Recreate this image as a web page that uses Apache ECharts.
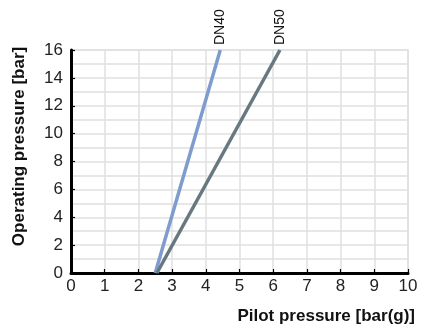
<!DOCTYPE html>
<html>
<head>
<meta charset="utf-8">
<script src="https://cdn.jsdelivr.net/npm/echarts@6/dist/echarts.min.js"></script>
<style>
  html, body { margin: 0; padding: 0; background: #fff; }
  #chart { width: 421px; height: 329px; }
</style>
</head>
<body>
<div id="chart"></div>
<script>
// pilot pressure [bar(g)] vs operating pressure [bar]
const seriesNames = ['DN40', 'DN50'];
const dn40 = [[2.5, 0], [4.43, 16]];
const dn50 = [[2.55, 0], [6.2, 16]];
const lineColors = ['#7f9ccf', '#677880'];

const chart = echarts.init(document.getElementById('chart'));

function lineSeries(name, data, color) {
  return {
    name: name,
    type: 'line',
    data: data,
    symbol: 'none',
    lineStyle: { color: color, width: 3.5 },
    label: { show: false },
    endLabel: {
      show: true,
      formatter: name,
      position: 'top',
      rotate: 90,
      align: 'left',
      verticalAlign: 'middle',
      color: '#111',
      fontSize: 14,
      fontFamily: 'Liberation Sans',
      distance: 0,
      offset: [5, 0]
    },
    z: 3
  };
}

const gridColor = '#e0e0e0';

const option = {
  animation: false,
  textStyle: { fontFamily: 'Liberation Sans' },
  grid: { left: 71, right: 13, top: 50, bottom: 56, containLabel: false, outerBoundsMode: 'none' },
  xAxis: {
    type: 'value',
    min: 0, max: 10, interval: 1,
    name: 'Pilot pressure [bar(g)]',
    nameLocation: 'end',
    nameGap: 7,
    nameTextStyle: {
      fontWeight: 'bold', fontSize: 17, color: '#111',
      align: 'right', verticalAlign: 'top', padding: [35, 0, 0, 0]
    },
    axisLine: { show: true, lineStyle: { color: '#000', width: 3 } },
    axisTick: { show: true, inside: true, length: 4, lineStyle: { color: '#000', width: 1.2 } },
    axisLabel: { fontSize: 17, color: '#222', margin: 5 },
    splitLine: { show: true, lineStyle: { color: gridColor, width: 1.5 } }
  },
  yAxis: {
    type: 'value',
    min: 0, max: 16, interval: 2,
    name: 'Operating pressure [bar]',
    nameLocation: 'middle',
    nameGap: 43,
    nameTextStyle: { fontWeight: 'bold', fontSize: 17, color: '#111', padding: [0, 0, 0, 30] },
    axisLine: { show: true, lineStyle: { color: '#000', width: 3 } },
    axisTick: { show: true, inside: true, length: 4, lineStyle: { color: '#000', width: 1.2 } },
    axisLabel: { fontSize: 17, color: '#222', margin: 8 },
    splitLine: { show: true, lineStyle: { color: gridColor, width: 1.5 } },
    minorTick: { show: false, splitNumber: 2 },
    minorSplitLine: { show: true, lineStyle: { color: gridColor, width: 1.5 } }
  },
  graphic: [{
    type: 'rect',
    shape: { x: 71, y: 50, width: 337, height: 223 },
    style: { fill: 'none', stroke: gridColor, lineWidth: 1.5 },
    z: 0, silent: true
  }],
  series: [
    lineSeries(seriesNames[0], dn40, lineColors[0]),
    lineSeries(seriesNames[1], dn50, lineColors[1])
  ]
};

chart.setOption(option);
</script>
</body>
</html>
